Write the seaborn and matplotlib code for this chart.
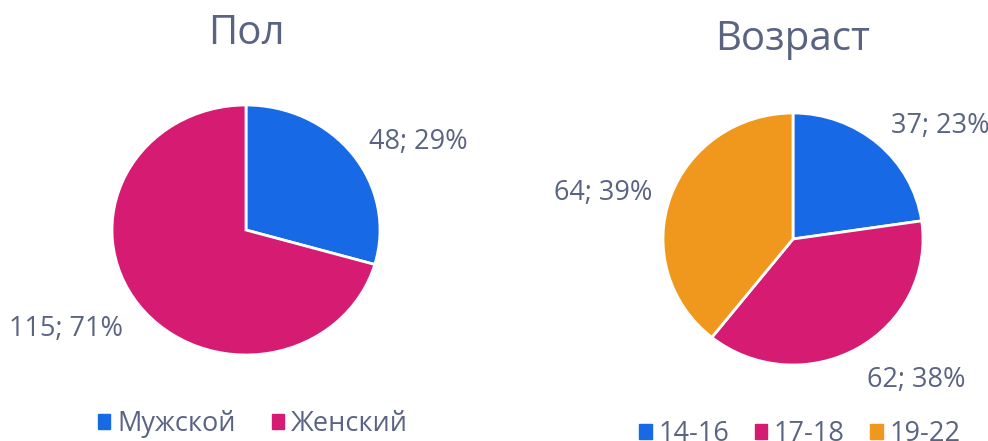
import matplotlib
matplotlib.use('Agg')
import matplotlib.pyplot as plt
import seaborn as sns
import numpy as np
from matplotlib.patches import Patch

# data
gender_labels = ['Мужской', 'Женский']
gender_values = [48, 115]
age_labels = ['14-16', '17-18', '19-22']
age_values = [37, 62, 64]

colors = ['#1769e6', '#d61b72', '#ef981d']
text_col = '#5a6482'

sns.set_theme(style='white')
plt.rcParams['font.family'] = ['Open Sans', 'DejaVu Sans']

W, H = 988, 441
fig = plt.figure(figsize=(W / 100, H / 100), dpi=100)


def draw_pie(cx, cy, rx, ry, values, labels, title, ty, leg_x, leg_y, colsp):
    ax = fig.add_axes([(cx - rx) / W, (H - cy - ry) / H, 2 * rx / W, 2 * ry / H])
    wedges, _ = ax.pie(values, colors=colors[:len(values)], startangle=90,
                       counterclock=False,
                       wedgeprops=dict(edgecolor='white', linewidth=2))
    ax.set_aspect('auto')
    ax.set_xlim(-1, 1)
    ax.set_ylim(-1, 1)
    total = sum(values)
    for w, v in zip(wedges, values):
        ang = np.deg2rad((w.theta1 + w.theta2) / 2)
        x, y = 1.15 * np.cos(ang), 1.24 * np.sin(ang)
        ax.annotate(f'{v}; {round(v / total * 100)}%', (x, y),
                    xytext=(0, -4), textcoords='offset points',
                    ha='left' if x > 0 else 'right', va='center',
                    fontsize=19.5, color=text_col, annotation_clip=False)
    fig.text(cx / W, 1 - ty / H, title, ha='center', va='center',
             fontsize=29, color=text_col)
    handles = [Patch(color=c) for c in colors[:len(values)]]
    fig.legend(handles, labels, loc='center', bbox_to_anchor=(leg_x / W, 1 - leg_y / H),
               ncol=len(values), frameon=False, fontsize=19.5, labelcolor=text_col,
               handlelength=0.45, handleheight=0.45, handletextpad=0.25,
               columnspacing=colsp, borderpad=0, borderaxespad=0)


draw_pie(246, 230, 134, 125, gender_values, gender_labels, 'Пол', 34, 253, 424, 1.35)
draw_pie(793, 239, 130, 126, age_values, age_labels, 'Возраст', 40, 800, 434, 0.95)

fig.savefig('out.png', dpi=100)
